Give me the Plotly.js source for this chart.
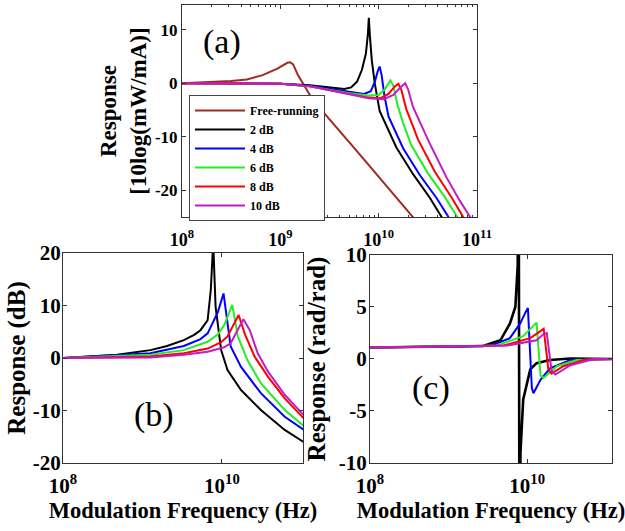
<!DOCTYPE html>
<html>
<head>
<meta charset="utf-8">
<script src="https://cdn.plot.ly/plotly-3.0.1.min.js"></script>
<style>html,body{margin:0;padding:0;background:#fff;}#chart{width:625px;height:531px;}</style>
</head>
<body>
<div id="chart"></div>
<script>
// ---------- data (frequency in Hz) ----------
const seriesNames = ["Free-running", "2 dB", "4 dB", "6 dB", "8 dB", "10 dB"];
const seriesColors = ["#a02a1e", "#000000", "#0000ff", "#22ee22", "#ff0000", "#c21cc8"];

// Panel (a): intensity response [10log(mW/mA)]
const fA_free = [1e8, 1.9e8, 3.16e8, 4.57e8, 6.61e8, 9.33e8, 1.07e9, 1.18e9, 1.26e9, 1.35e9, 1.51e9, 1.78e9, 2.09e9, 2.51e9, 3.24e9, 5.01e9, 7.94e9, 1.26e10, 2.24e10, 3.16e10];
const rA_free = [0, 0.2, 0.4, 0.7, 1.5, 2.7, 3.4, 3.8, 3.9, 3.5, 1.5, -0.7, -2.8, -4.6, -6.9, -11.0, -15.3, -19.6, -25, -28.3];
const fA_2 = [1e8, 1e9, 2e9, 3.16e9, 4.47e9, 5.25e9, 6.03e9, 6.76e9, 7.41e9, 7.76e9, 7.94e9, 8.13e9, 8.51e9, 9.12e9, 1.023e10, 1.514e10, 2.239e10, 3.311e10, 4.365e10, 5.623e10];
const rA_2 = [0, -0.1, -0.4, -0.8, -1.1, -0.8, 0.3, 2.5, 5.5, 9, 12.2, 9, 4.3, 0, -5.2, -12, -17, -21.4, -25, -27.5];
const fA_4 = [1e8, 1e9, 2e9, 3.16e9, 5.01e9, 7.08e9, 8.32e9, 9.12e9, 9.77e9, 1.023e10, 1.072e10, 1.148e10, 1.259e10, 1.778e10, 2.63e10, 3.89e10, 5.13e10, 6.31e10];
const rA_4 = [0, -0.1, -0.5, -1.0, -1.6, -2.0, -1.5, 0.2, 2.2, 3.1, 1.5, -2.5, -6.2, -12.2, -17.2, -21.5, -25, -27];
const fA_6 = [1e8, 1e9, 2e9, 3.16e9, 5.01e9, 7.94e9, 1e10, 1.148e10, 1.259e10, 1.318e10, 1.413e10, 1.549e10, 1.778e10, 2.138e10, 3.162e10, 4.677e10, 6.31e10, 7.94e10];
const rA_6 = [0, -0.1, -0.6, -1.2, -1.9, -2.3, -2.2, -1.2, 0, 0.5, -0.5, -4, -7.5, -11.5, -16.8, -21.2, -25, -27];
const fA_8 = [1e8, 1e9, 2e9, 3.16e9, 5.01e9, 7.94e9, 1.047e10, 1.259e10, 1.445e10, 1.585e10, 1.698e10, 1.905e10, 2.512e10, 3.715e10, 5.495e10, 7.244e10, 8.913e10];
const rA_8 = [0, -0.1, -0.6, -1.3, -2.1, -2.7, -2.8, -2.0, -0.7, -0.1, -1.2, -4.8, -10.5, -16.5, -21.3, -25, -27];
const fA_10 = [1e8, 1e9, 2e9, 3.16e9, 5.01e9, 7.94e9, 1.122e10, 1.413e10, 1.66e10, 1.862e10, 1.995e10, 2.239e10, 3.311e10, 4.898e10, 6.607e10, 8.511e10, 1e11];
const rA_10 = [0, -0.1, -0.6, -1.3, -2.1, -2.8, -3.0, -2.2, -0.8, 0, -1.2, -4.5, -11.3, -17.6, -21.8, -25, -26.5];

// Panel (b): response (dB)
const fB_2 = [1e8, 4.79e8, 1.259e9, 2.042e9, 3.311e9, 4.467e9, 5.37e9, 6.607e9, 7.244e9, 7.762e9, 8.318e9, 9.772e9, 1.175e10, 1.738e10, 3.09e10, 6.166e10, 1.2e11];
const rB_2 = [0, 0.6, 1.5, 2.3, 3.4, 4.4, 5.3, 7.2, 13, 22, 9.8, 1.5, -2.3, -6.1, -9.9, -13.7, -16.5];
const fB_4 = [1e8, 4.79e8, 1.259e9, 3.311e9, 5.37e9, 6.607e9, 8.913e9, 1.047e10, 1.288e10, 1.738e10, 3.09e10, 6.166e10, 1.2e11];
const rB_4 = [0, 0.5, 0.9, 2.3, 3.6, 4.7, 8.8, 12.3, 2.2, -1.7, -6.7, -11.2, -14.2];
const fB_6 = [1e8, 4.79e8, 1.259e9, 3.311e9, 6.607e9, 8.913e9, 1.072e10, 1.349e10, 1.585e10, 2.089e10, 3.09e10, 6.166e10, 1.2e11];
const rB_6 = [0, 0.4, 0.6, 1.5, 3.1, 4.5, 6.3, 10.1, 4.1, -0.4, -4.8, -9.9, -13.6];
const fB_8 = [1e8, 1.259e9, 3.311e9, 6.607e9, 9.772e9, 1.175e10, 1.622e10, 1.95e10, 2.57e10, 3.802e10, 6.166e10, 1.2e11];
const rB_8 = [0, 0.3, 0.9, 1.8, 3.0, 4.1, 8.2, 4.5, 0.3, -3.6, -7.7, -12.3];
const fB_10 = [1e8, 1.259e9, 3.311e9, 6.607e9, 1.047e10, 1.288e10, 1.862e10, 2.239e10, 2.818e10, 3.802e10, 6.166e10, 1.2e11];
const rB_10 = [0, 0.1, 0.6, 1.2, 2.0, 2.8, 7.4, 5.3, 0.9, -2.6, -7, -11.7];

// Panel (c): response (rad/rad)
const fC_2 = [1e8, 2.754e9, 4.571e9, 6.026e9, 7.079e9, 7.586e9, 7.762e9, 8.035e9, 8.222e9, 8.913e9, 1.096e10, 1.318e10, 1.95e10, 3.548e10, 1.2e11];
const rC_2 = [1.1, 1.25, 1.8, 3.4, 5, 9, 30, -30, -9, -3.9, -1.0, -0.4, -0.1, 0.05, 0];
const fC_4 = [1e8, 3.388e9, 6.026e9, 8.128e9, 9.55e9, 1.023e10, 1.084e10, 1.148e10, 1.202e10, 1.479e10, 1.95e10, 3.548e10, 1.2e11];
const rC_4 = [1.1, 1.25, 2, 3.4, 4.5, 4.9, 1, -2.8, -3.3, -2, -0.9, -0.1, 0];
const fC_6 = [1e8, 4.074e9, 8.913e9, 1.202e10, 1.318e10, 1.396e10, 1.479e10, 1.622e10, 2.399e10, 4.266e10, 1.2e11];
const rC_6 = [1.1, 1.3, 2.2, 3.2, 3.5, 1, -1.6, -1.8, -0.7, -0.1, 0];
const fC_8 = [1e8, 5.012e9, 1.096e10, 1.479e10, 1.622e10, 1.738e10, 1.862e10, 2.042e10, 2.884e10, 5.248e10, 1.2e11];
const rC_8 = [1.1, 1.3, 2.0, 2.7, 2.9, 1.0, -1.0, -1.4, -0.7, -0.1, 0];
const fC_10 = [1e8, 5.623e9, 1.318e10, 1.622e10, 1.778e10, 1.905e10, 2.042e10, 2.291e10, 3.548e10, 7.079e10, 1.2e11];
const rC_10 = [1.1, 1.3, 1.8, 2.4, 2.5, 0.8, -1.1, -1.5, -0.6, 0, 0];

// tick labels
const xTickValsA = [1e8, 1e9, 1e10, 1e11];
const xTickTextA = ["10<sup>8</sup>", "10<sup>9</sup>", "10<sup>10</sup>", "10<sup>11</sup>"];
const xTickValsBC = [1e8, 1e10];
const xTickTextBC = ["10<sup>8</sup>", "10<sup>10</sup>"];
const yTickValsA = [-20, -10, 0, 10];
const yTickTextA = ["-20", "-10", "0", "10"];
const yTickValsB = [-20, -10, 0, 10, 20];
const yTickTextB = ["-20", "-10", "0", "10", "20"];
const yTickValsC = [-10, -5, 0, 5, 10];
const yTickTextC = ["-10", "-5", "0", "5", "10"];

// ---------- build traces ----------
const serif = "Liberation Serif, Times New Roman, serif";
const panelA = [[fA_free, rA_free], [fA_2, rA_2], [fA_4, rA_4], [fA_6, rA_6], [fA_8, rA_8], [fA_10, rA_10]];
const panelB = [[fB_2, rB_2], [fB_4, rB_4], [fB_6, rB_6], [fB_8, rB_8], [fB_10, rB_10]];
const panelC = [[fC_2, rC_2], [fC_4, rC_4], [fC_6, rC_6], [fC_8, rC_8], [fC_10, rC_10]];

const traces = [];
panelA.forEach((s, i) => traces.push({
  x: s[0], y: s[1], type: "scatter", mode: "lines", name: seriesNames[i],
  line: {color: seriesColors[i], width: 2}, xaxis: "x", yaxis: "y", showlegend: true
}));
panelB.forEach((s, i) => traces.push({
  x: s[0], y: s[1], type: "scatter", mode: "lines", name: seriesNames[i + 1],
  line: {color: seriesColors[i + 1], width: 2}, xaxis: "x2", yaxis: "y2", showlegend: false
}));
panelC.forEach((s, i) => traces.push({
  x: s[0], y: s[1], type: "scatter", mode: "lines", name: seriesNames[i + 1],
  line: {color: seriesColors[i + 1], width: i === 0 ? 2.6 : 2}, xaxis: "x3", yaxis: "y3", showlegend: false
}));

function axisBase(extra) {
  return Object.assign({
    showline: true, linecolor: "#333", linewidth: 1, mirror: "ticks",
    ticks: "inside", ticklen: 4, tickcolor: "#333", showgrid: false, zeroline: false,
    tickmode: "array", automargin: false,
    tickfont: {family: serif, size: 21, color: "#000", weight: "bold"}
  }, extra);
}
const xTitleFont = {family: serif, size: 22.5, color: "#000", weight: "bold"};
const yTitleFont = {family: serif, size: 25, color: "#000", weight: "bold"};

const layout = {
  width: 625, height: 531,
  margin: {l: 0, r: 0, t: 0, b: 0},
  paper_bgcolor: "#fff", plot_bgcolor: "#fff",
  showlegend: true,
  legend: {
    x: 0.3024, y: 0.821, xanchor: "left", yanchor: "top",
    bgcolor: "#fff", bordercolor: "#444", borderwidth: 1,
    font: {family: serif, size: 12, color: "#000", weight: "bold"},
    itemwidth: 50, tracegroupgap: 0
  },
  xaxis: axisBase({type: "log", domain: [0.2912, 0.7632], range: [8, 11], anchor: "y",
    tickvals: xTickValsA, ticktext: xTickTextA, ticklabelstandoff: 6,
    tickfont: {family: serif, size: 18, color: "#000", weight: "bold"},
    minor: {ticks: "inside", ticklen: 2, tickcolor: "#333", dtick: "D1"}}),
  yaxis: axisBase({domain: [0.5913, 0.9906], range: [-25, 14.6], anchor: "x",
    tickvals: yTickValsA, ticktext: yTickTextA,
    tickfont: {family: serif, size: 17, color: "#000", weight: "bold"},
    title: {text: "Response<br>[10log(mW/mA)]", font: {family: serif, size: 23, color: "#000", weight: "bold"}, standoff: 1}}),
  xaxis2: axisBase({type: "log", domain: [0.1008, 0.4848], range: [8, 11.02], anchor: "y2",
    tickvals: xTickValsBC, ticktext: xTickTextBC, ticklabelstandoff: 4,
    title: {text: "Modulation Frequency (Hz)", font: xTitleFont, standoff: 5}}),
  yaxis2: axisBase({domain: [0.1281, 0.5235], range: [-20, 20], anchor: "x2",
    tickvals: yTickValsB, ticktext: yTickTextB, ticklabelstandoff: -3,
    title: {text: "Response (dB)", font: yTitleFont, standoff: 0}}),
  xaxis3: axisBase({type: "log", domain: [0.592, 0.9792], range: [8, 11.08], anchor: "y3",
    tickvals: xTickValsBC, ticktext: xTickTextBC, ticklabelstandoff: 4,
    title: {text: "Modulation Frequency (Hz)", font: xTitleFont, standoff: 5}}),
  yaxis3: axisBase({domain: [0.1281, 0.5198], range: [-10, 10], anchor: "x3",
    tickvals: yTickValsC, ticktext: yTickTextC, ticklabelstandoff: -2,
    title: {text: "Response (rad/rad)", font: yTitleFont, standoff: 6}}),
  annotations: [
    {text: "(a)", x: 0.355, y: 0.921, xref: "paper", yref: "paper", showarrow: false,
     xanchor: "center", yanchor: "middle", font: {family: serif, size: 34, color: "#000"}},
    {text: "(b)", x: 0.2464, y: 0.2185, xref: "paper", yref: "paper", showarrow: false,
     xanchor: "center", yanchor: "middle", font: {family: serif, size: 34, color: "#000"}},
    {text: "(c)", x: 0.6896, y: 0.2693, xref: "paper", yref: "paper", showarrow: false,
     xanchor: "center", yanchor: "middle", font: {family: serif, size: 34, color: "#000"}}
  ]
};

Plotly.newPlot("chart", traces, layout, {displayModeBar: false, staticPlot: true});
</script>
</body>
</html>
